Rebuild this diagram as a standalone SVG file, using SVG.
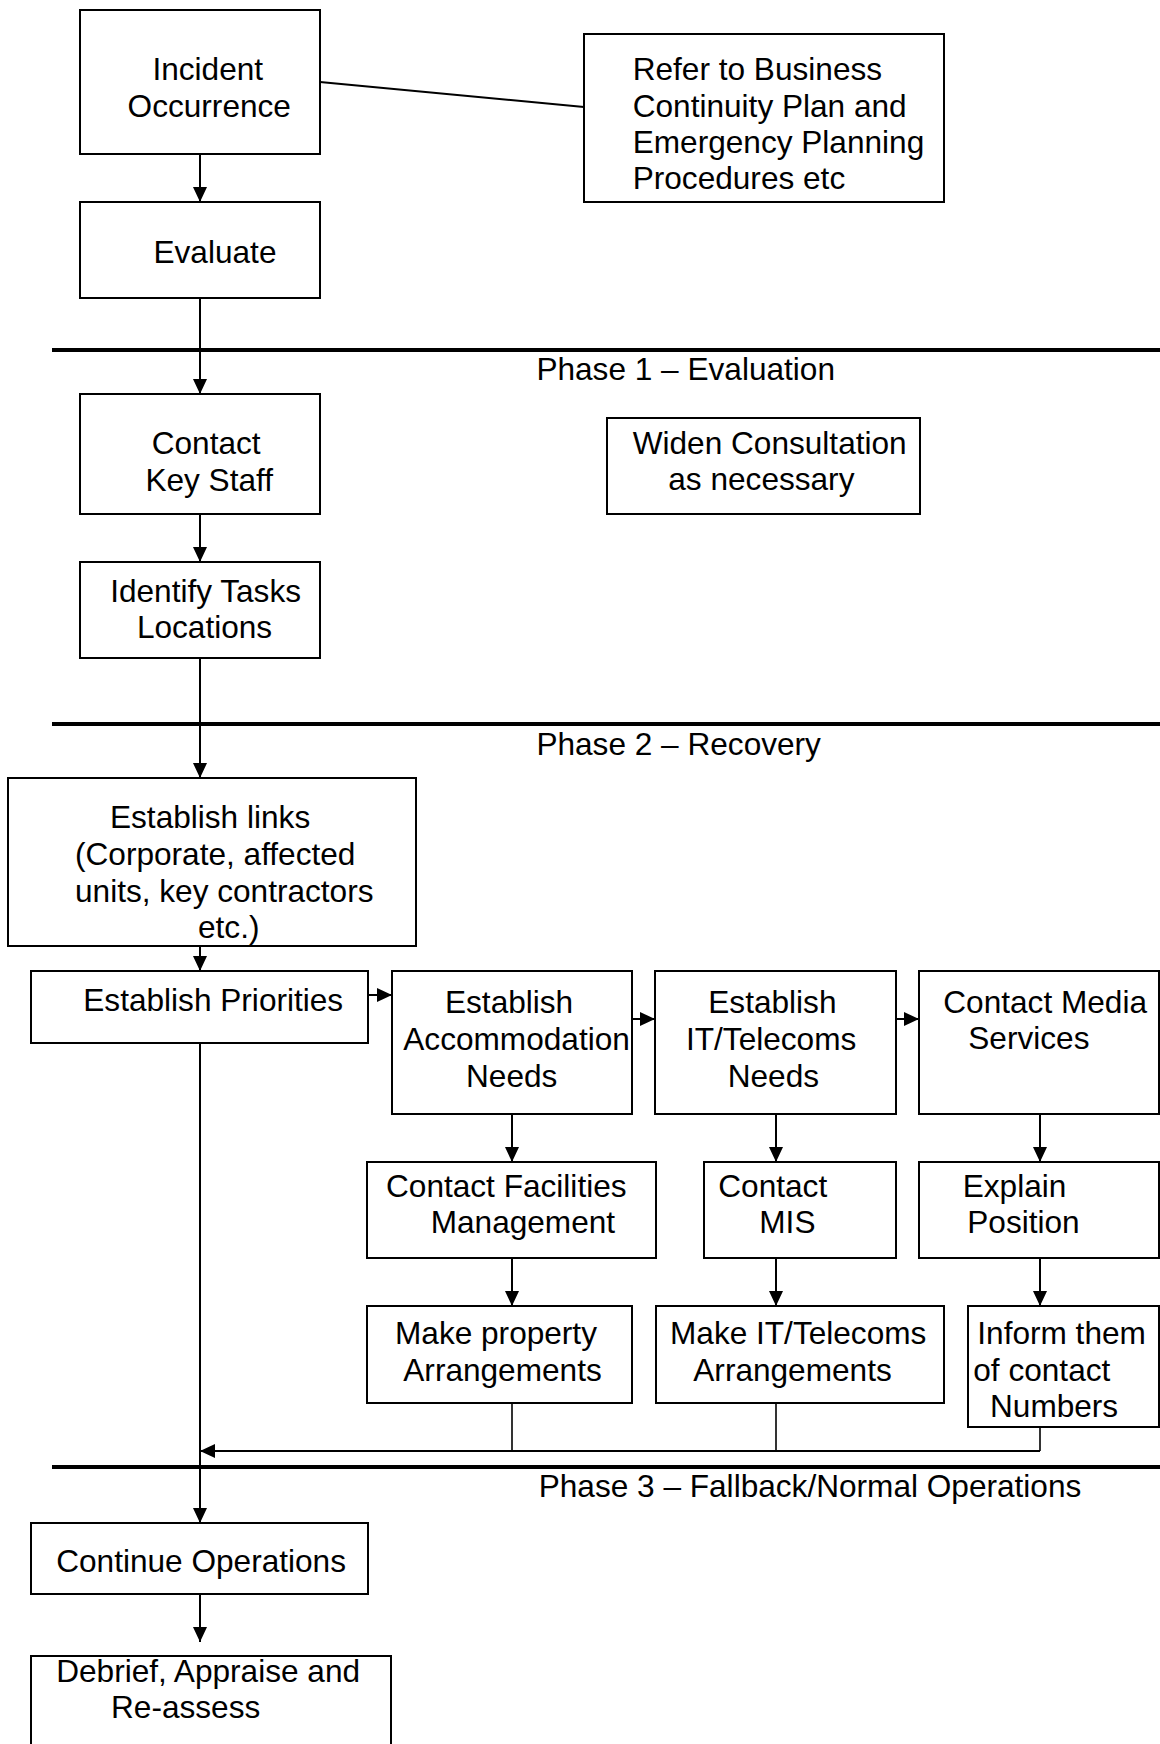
<svg xmlns="http://www.w3.org/2000/svg" width="1160" height="1744" viewBox="0 0 1160 1744">
<style>
.box{fill:#fff;stroke:#000;stroke-width:2}
.t{font-family:"Liberation Sans",Arial,sans-serif;font-size:31.6px;fill:#000}
.c{fill:none;stroke:#000;stroke-width:2}
.thin{fill:none;stroke:#000;stroke-width:1.6}
.phase{stroke:#000;stroke-width:4}
</style>
<defs>
<marker id="ah" markerUnits="userSpaceOnUse" markerWidth="16" markerHeight="14" refX="15" refY="7" orient="auto">
<path d="M0,0 L15,7 L0,14 z" fill="#000"/>
</marker>
</defs>
<rect width="1160" height="1744" fill="#fff"/>
<g id="phases">
<line class="phase" x1="52" y1="350" x2="1160" y2="350"/>
<line class="phase" x1="52" y1="724" x2="1160" y2="724"/>
<line class="phase" x1="52" y1="1467" x2="1160" y2="1467"/>
<text class="t" x="536.4" y="380">Phase 1 – Evaluation</text>
<text class="t" x="536.4" y="755">Phase 2 – Recovery</text>
<text class="t" x="538.7" y="1496.7">Phase 3 – Fallback/Normal Operations</text>
</g>
<g id="connectors">
<line class="c" x1="200" y1="154" x2="200" y2="202" marker-end="url(#ah)"/>
<line class="c" x1="320" y1="82" x2="584" y2="107"/>
<line class="c" x1="200" y1="298" x2="200" y2="394" marker-end="url(#ah)"/>
<line class="c" x1="200" y1="514" x2="200" y2="562" marker-end="url(#ah)"/>
<line class="c" x1="200" y1="658" x2="200" y2="778" marker-end="url(#ah)"/>
<line class="c" x1="200" y1="946" x2="200" y2="971" marker-end="url(#ah)"/>
<line class="c" x1="368" y1="995" x2="392" y2="995" marker-end="url(#ah)"/>
<line class="c" x1="632" y1="1019" x2="655" y2="1019" marker-end="url(#ah)"/>
<line class="c" x1="896" y1="1019" x2="919" y2="1019" marker-end="url(#ah)"/>
<line class="c" x1="512" y1="1114" x2="512" y2="1162" marker-end="url(#ah)"/>
<line class="c" x1="512" y1="1258" x2="512" y2="1306" marker-end="url(#ah)"/>
<line class="c" x1="776" y1="1114" x2="776" y2="1162" marker-end="url(#ah)"/>
<line class="c" x1="776" y1="1258" x2="776" y2="1306" marker-end="url(#ah)"/>
<line class="c" x1="1040" y1="1114" x2="1040" y2="1162" marker-end="url(#ah)"/>
<line class="c" x1="1040" y1="1258" x2="1040" y2="1306" marker-end="url(#ah)"/>
<line class="c" x1="200" y1="1043" x2="200" y2="1523" marker-end="url(#ah)"/>
<line class="thin" x1="512" y1="1403" x2="512" y2="1451"/>
<line class="thin" x1="776" y1="1403" x2="776" y2="1451"/>
<line class="thin" x1="1040" y1="1427" x2="1040" y2="1451"/>
<line class="c" x1="1040" y1="1451" x2="200" y2="1451" marker-end="url(#ah)"/>
<line class="c" x1="200" y1="1594" x2="200" y2="1642" marker-end="url(#ah)"/>
</g>
<g id="incident"><rect class="box" x="80" y="10" width="240" height="144"/>
<text class="t" x="152.4" y="80">Incident</text><text class="t" x="127.6" y="117">Occurrence</text></g>
<g id="refer"><rect class="box" x="584" y="34" width="360" height="168"/>
<text class="t" x="632.7" y="80">Refer to Business</text>
<text class="t" x="632.7" y="116.7">Continuity Plan and</text>
<text class="t" x="632.7" y="153.3">Emergency Planning</text>
<text class="t" x="632.7" y="189.3">Procedures etc</text></g>
<g id="evaluate"><rect class="box" x="80" y="202" width="240" height="96"/>
<text class="t" x="153.5" y="263">Evaluate</text></g>
<g id="contact-key-staff"><rect class="box" x="80" y="394" width="240" height="120"/>
<text class="t" x="151.7" y="454">Contact</text><text class="t" x="145.4" y="490.7">Key Staff</text></g>
<g id="widen"><rect class="box" x="607" y="418" width="313" height="96"/>
<text class="t" x="632.7" y="454">Widen Consultation</text><text class="t" x="668.3" y="490">as necessary</text></g>
<g id="identify"><rect class="box" x="80" y="562" width="240" height="96"/>
<text class="t" x="110.2" y="601.7">Identify Tasks</text><text class="t" x="136.9" y="638.3">Locations</text></g>
<g id="links"><rect class="box" x="8" y="778" width="408" height="168"/>
<text class="t" x="110" y="828.3">Establish links</text>
<text class="t" x="75" y="865">(Corporate, affected</text>
<text class="t" x="75" y="901.7">units, key contractors</text>
<text class="t" x="198" y="938.3">etc.)</text></g>
<g id="priorities"><rect class="box" x="31" y="971" width="337" height="72"/>
<text class="t" x="83.3" y="1010.7">Establish Priorities</text></g>
<g id="accommodation"><rect class="box" x="392" y="971" width="240" height="143"/>
<text class="t" x="445" y="1013.3">Establish</text>
<text class="t" x="403.3" y="1050">Accommodation</text>
<text class="t" x="466" y="1086.7">Needs</text></g>
<g id="it-telecoms"><rect class="box" x="655" y="971" width="241" height="143"/>
<text class="t" x="708.3" y="1013.3">Establish</text>
<text class="t" x="686" y="1050">IT/Telecoms</text>
<text class="t" x="727.7" y="1086.7">Needs</text></g>
<g id="media"><rect class="box" x="919" y="971" width="240" height="143"/>
<text class="t" x="943.3" y="1012.7">Contact Media</text>
<text class="t" x="968.3" y="1049.3">Services</text></g>
<g id="facilities"><rect class="box" x="367" y="1162" width="289" height="96"/>
<text class="t" x="386" y="1196.7">Contact Facilities</text>
<text class="t" x="430.7" y="1233.3">Management</text></g>
<g id="mis"><rect class="box" x="704" y="1162" width="192" height="96"/>
<text class="t" x="718.3" y="1196.7">Contact</text>
<text class="t" x="759.3" y="1233.3">MIS</text></g>
<g id="explain"><rect class="box" x="919" y="1162" width="240" height="96"/>
<text class="t" x="962.7" y="1197.3">Explain</text>
<text class="t" x="967.3" y="1233.3">Position</text></g>
<g id="property"><rect class="box" x="367" y="1306" width="265" height="97"/>
<text class="t" x="395" y="1344">Make property</text>
<text class="t" x="403.3" y="1380.7">Arrangements</text></g>
<g id="make-it"><rect class="box" x="656" y="1306" width="288" height="97"/>
<text class="t" x="670" y="1344">Make IT/Telecoms</text>
<text class="t" x="693.3" y="1380.7">Arrangements</text></g>
<g id="inform"><rect class="box" x="968" y="1306" width="191" height="121"/>
<text class="t" x="977.3" y="1344">Inform them</text>
<text class="t" x="973.3" y="1380.7">of contact</text>
<text class="t" x="990" y="1417.3">Numbers</text></g>
<g id="continue"><rect class="box" x="31" y="1523" width="337" height="71"/>
<text class="t" x="56.2" y="1571.7">Continue Operations</text></g>
<g id="debrief"><rect class="box" x="31" y="1656" width="360" height="100"/>
<text class="t" x="56.2" y="1681.7">Debrief, Appraise and</text>
<text class="t" x="111" y="1718.3">Re-assess</text></g>
</svg>
